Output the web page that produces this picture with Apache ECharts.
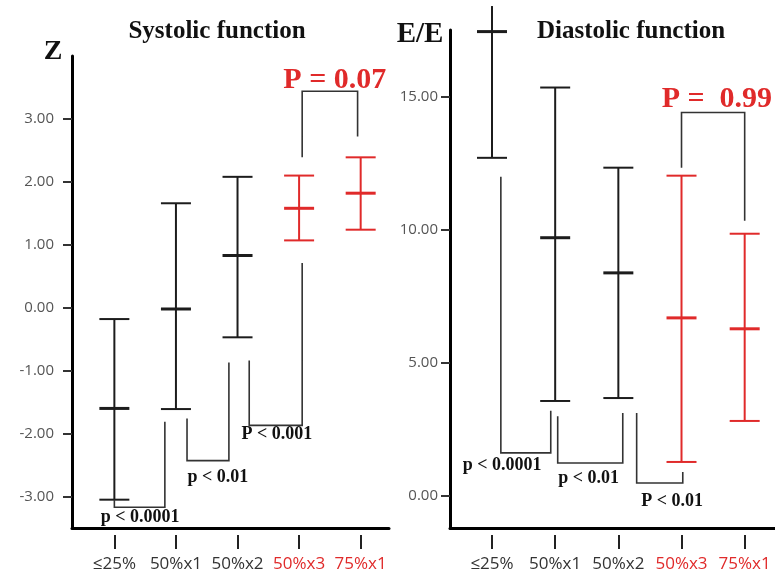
<!DOCTYPE html>
<html><head><meta charset="utf-8">
<script src="https://cdn.jsdelivr.net/npm/echarts@6/dist/echarts.min.js"></script>
<style>html,body{margin:0;padding:0;background:#fff}#c{width:775px;height:581px}</style>
</head><body><div id="c"></div>
<script>
// ---------- data ----------
const categories = ['≤25%', '50%x1', '50%x2', '50%x3', '75%x1'];
const highlighted = ['50%x3', '75%x1'];
const categoryPos = [1, 2, 3, 4, 5];

const sysLower = [-3.05, -1.61, -0.47, 1.07, 1.24];
const sysMean  = [-1.60, -0.02, 0.83, 1.58, 1.82];
const sysUpper = [-0.18, 1.66, 2.08, 2.10, 2.39];

const diaLower = [12.70, 3.57, 3.68, 1.28, 2.82];
const diaMean  = [17.44, 9.70, 8.38, 6.69, 6.28];
const diaUpper = [18.40, 15.34, 12.33, 12.03, 9.85];

const sysTicks = [-3, -2, -1, 0, 1, 2, 3];
const diaTicks = [0, 5, 10, 15];

// brackets: [x1, y1, x2, y2, yBar]
const sysBrackets = [[1.0, -3.05, 1.82, -1.81, -3.17], [2.18, -1.76, 2.86, -0.87, -2.43], [3.19, -0.84, 4.05, 0.71, -1.87], [4.05, 2.39, 4.95, 2.72, 3.44]];
const sysBracketText = ['p < 0.0001', 'p < 0.01', 'P < 0.001', 'P = 0.07'];
const sysTextPos = [[1.42, -3.33], [2.68, -2.70], [3.64, -2.01], [4.58, 3.62]];

const diaBrackets = [[1.14, 11.99, 1.93, 3.2, 1.62], [2.04, 3.0, 3.07, 3.12, 1.24], [3.29, 3.12, 4.02, 0.90, 0.49], [4.0, 12.33, 5.0, 10.34, 14.4]];
const diaBracketText = ['p < 0.0001', 'p < 0.01', 'P < 0.01', 'P =  0.99'];
const diaTextPos = [[1.16, 1.17], [2.53, 0.68], [3.85, -0.19], [4.56, 14.89]];

const sysRange = [-3.5, 4.0];
const diaRange = [-1.2, 17.5];

// ---------- drawing ----------
const BLACK = '#1c1c1c', RED = '#e02a2a', GRAY = '#555';
const SERIF = '"Liberation Serif", "Times New Roman", serif';
const SANS = '"Open Sans", "DejaVu Sans", sans-serif';

function barRender(yMax) {
  return function (params, api) {
    const i = params.dataIndex;
    const color = highlighted.includes(categories[i]) ? RED : BLACK;
    const x = api.value(0);
    const pl = api.coord([x, api.value(1)]);
    const pm = api.coord([x, api.value(2)]);
    const hiVal = api.value(3);
    const pu = api.coord([x, hiVal]);
    const cap = 15;
    const children = [
      { type: 'line', shape: { x1: pl[0], y1: pl[1], x2: pu[0], y2: pu[1] }, style: { stroke: color, lineWidth: 2 } },
      { type: 'line', shape: { x1: pl[0] - cap, y1: pl[1], x2: pl[0] + cap, y2: pl[1] }, style: { stroke: color, lineWidth: 2 } },
      { type: 'line', shape: { x1: pm[0] - cap, y1: pm[1], x2: pm[0] + cap, y2: pm[1] }, style: { stroke: color, lineWidth: 3 } }
    ];
    if (hiVal <= yMax) {
      children.push({ type: 'line', shape: { x1: pu[0] - cap, y1: pu[1], x2: pu[0] + cap, y2: pu[1] }, style: { stroke: color, lineWidth: 2 } });
    }
    return { type: 'group', children };
  };
}

function bracketRender(params, api) {
  const x1 = api.value(0), y1 = api.value(1), x2 = api.value(2), y2 = api.value(3), yb = api.value(4);
  const pts = [api.coord([x1, y1]), api.coord([x1, yb]), api.coord([x2, yb]), api.coord([x2, y2])];
  return { type: 'polyline', shape: { points: pts }, style: { stroke: '#333', lineWidth: 1.6, fill: null } };
}

function textRender(texts) {
  return function (params, api) {
    const p = api.coord([api.value(0), api.value(1)]);
    const t = texts[params.dataIndex];
    const key = t.indexOf('=') >= 0;
    return {
      type: 'text', x: p[0], y: p[1],
      style: {
        text: t, fill: key ? RED : '#111',
        font: key ? 'bold 30px ' + SERIF : 'bold 18px ' + SERIF,
        align: 'center', verticalAlign: 'middle', textAlign: 'center', textVerticalAlign: 'middle'
      }
    };
  };
}

function xAxisLine(gridIndex, min, max) {
  return {
    type: 'value', gridIndex, min, max,
    splitLine: { show: false },
    axisLine: { onZero: false, lineStyle: { color: '#000', width: 3 } },
    axisTick: { show: false },
    axisLabel: { show: false }
  };
}
function xAxisTicks(gridIndex, min, max) {
  return {
    type: 'value', gridIndex, min, max, position: 'bottom', offset: 7,
    splitLine: { show: false },
    axisLine: { show: false, onZero: false },
    axisTick: { show: true, customValues: categoryPos, length: 14, lineStyle: { color: '#222', width: 2 } },
    axisLabel: {
      customValues: categoryPos, margin: 21,
      formatter: v => {
        const c = categories[Math.round(v) - 1];
        return highlighted.includes(c) ? '{r|' + c + '}' : '{k|' + c + '}';
      },
      rich: {
        r: { color: RED, fontSize: 17, fontFamily: SANS },
        k: { color: '#333', fontSize: 17, fontFamily: SANS }
      }
    }
  };
}

function yAxisFor(gridIndex, range, ticks, margin) {
  return {
    type: 'value', gridIndex, min: range[0], max: range[1],
    splitLine: { show: false },
    axisLine: { show: true, onZero: false, lineStyle: { color: '#000', width: 3 } },
    axisTick: { show: true, customValues: ticks, length: 9, lineStyle: { color: '#333', width: 2 } },
    axisLabel: { customValues: ticks, margin, color: GRAY, fontSize: 15, fontFamily: SANS, formatter: v => v.toFixed(2) }
  };
}

const sysData = categories.map((c, i) => [categoryPos[i], sysLower[i], sysMean[i], sysUpper[i]]);
const diaData = categories.map((c, i) => [categoryPos[i], diaLower[i], diaMean[i], diaUpper[i]]);

const titleStyle = (text, size) => ({ text, font: 'bold ' + size + 'px ' + SERIF, fill: '#111', align: 'center', verticalAlign: 'middle', textAlign: 'center', textVerticalAlign: 'middle' });

const chart = echarts.init(document.getElementById('c'), null, { renderer: 'canvas' });
chart.setOption({
  backgroundColor: '#fff',
  animation: false,
  grid: [
    { left: 72, top: 56, width: 317, height: 472 },
    { left: 450, top: 30, width: 325, height: 498 }
  ],
  xAxis: [xAxisLine(0, 0.312, 5.46), xAxisLine(1, 0.335, 5.48), xAxisTicks(0, 0.312, 5.46), xAxisTicks(1, 0.335, 5.48)],
  yAxis: [yAxisFor(0, sysRange, sysTicks, 18), yAxisFor(1, diaRange, diaTicks, 12)],
  graphic: [
    { type: 'text', x: 217, y: 32, style: titleStyle('Systolic function', 25) },
    { type: 'text', x: 53, y: 52, style: titleStyle('Z', 28) },
    { type: 'text', x: 631, y: 32, style: titleStyle('Diastolic function', 25) },
    { type: 'text', x: 420, y: 35, style: titleStyle('E/E', 29) }
  ],
  series: [
    { type: 'custom', xAxisIndex: 0, yAxisIndex: 0, renderItem: barRender(sysRange[1]), data: sysData, clip: false, silent: true },
    { type: 'custom', xAxisIndex: 1, yAxisIndex: 1, renderItem: barRender(diaRange[1]), data: diaData, clip: false, silent: true },
    { type: 'custom', xAxisIndex: 0, yAxisIndex: 0, renderItem: bracketRender, data: sysBrackets, clip: false, silent: true },
    { type: 'custom', xAxisIndex: 1, yAxisIndex: 1, renderItem: bracketRender, data: diaBrackets, clip: false, silent: true },
    { type: 'custom', xAxisIndex: 0, yAxisIndex: 0, renderItem: textRender(sysBracketText), data: sysTextPos, clip: false, silent: true },
    { type: 'custom', xAxisIndex: 1, yAxisIndex: 1, renderItem: textRender(diaBracketText), data: diaTextPos, clip: false, silent: true }
  ]
});
</script></body></html>
